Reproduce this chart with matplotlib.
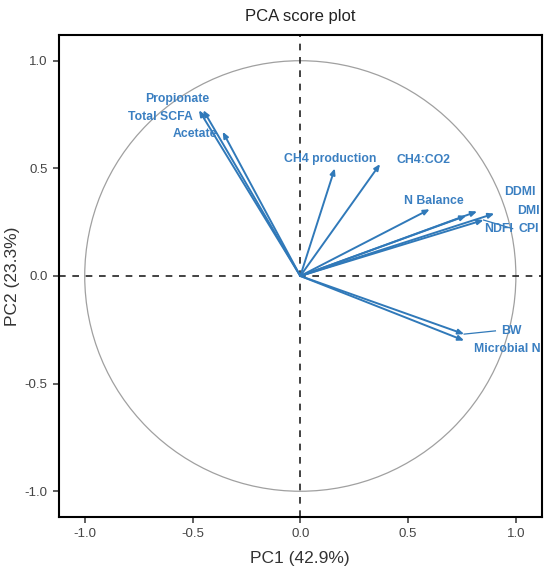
import numpy as np
import matplotlib.pyplot as plt
from matplotlib.patches import Circle

plt.rcParams["font.family"] = ["Liberation Sans", "DejaVu Sans"]
plt.rcParams["axes.unicode_minus"] = False

# loadings (PC1, PC2)
variables = ["Propionate", "Total SCFA", "Acetate", "CH4 production", "CH4:CO2",
             "N Balance", "DDMI", "DMI", "CPI", "NDFI", "BW", "Microbial N"]
pc1 = [-0.45, -0.47, -0.36, 0.16, 0.37, 0.60, 0.82, 0.90, 0.85, 0.77, 0.76, 0.76]
pc2 = [0.77, 0.77, 0.67, 0.50, 0.52, 0.31, 0.30, 0.29, 0.26, 0.28, -0.27, -0.30]
# label positions after de-overlapping
lab_x = [-0.57, -0.65, -0.49, 0.14, 0.57, 0.62, 1.02, 1.06, 1.06, 0.92, 0.98, 0.96]
lab_y = [0.82, 0.74, 0.66, 0.545, 0.54, 0.35, 0.39, 0.30, 0.22, 0.22, -0.255, -0.34]
connect = ["CPI", "BW"]

arrow_c = "#3079b9"
text_c = "#3a7fc1"

fig = plt.figure(figsize=(5.5, 5.72), dpi=100)
ax = fig.add_axes([0.107, 0.096, 0.878, 0.843])

ax.add_patch(Circle((0, 0), 1.0, fill=False, color="#a0a0a0", lw=0.9))
ax.axhline(0, color="#222222", ls=(0, (4, 4)), lw=1.2, zorder=1)
ax.axvline(0, color="#222222", ls=(0, (4, 4)), lw=1.2, zorder=1)

for name, x, y, tx, ty in zip(variables, pc1, pc2, lab_x, lab_y):
    ax.annotate("", xy=(x, y), xytext=(0, 0),
                arrowprops=dict(arrowstyle="-|>,head_length=0.35,head_width=0.15",
                                color=arrow_c, lw=1.4, shrinkA=0, shrinkB=0))
    ax.text(tx, ty, name, color=text_c, fontsize=8.8, fontweight="bold",
            ha="center", va="center")
    if name in connect:
        ax.plot([x, tx - 0.075], [y, ty], color=arrow_c, lw=0.9)

ax.set_xlim(-1.12, 1.12)
ax.set_ylim(-1.12, 1.12)
ax.set_xticks([-1.0, -0.5, 0.0, 0.5, 1.0])
ax.set_yticks([-1.0, -0.5, 0.0, 0.5, 1.0])
ax.tick_params(direction="out", length=4, width=1.2, labelsize=9.5,
               colors="#444444", pad=4)
for s in ax.spines.values():
    s.set_linewidth(1.5)
ax.set_xlabel("PC1 (42.9%)", fontsize=12.5, color="#333333", labelpad=8)
ax.set_ylabel("PC2 (23.3%)", fontsize=12.5, color="#333333", va="center")
ax.yaxis.set_label_coords(-0.095, 0.5)
ax.set_title("PCA score plot", fontsize=12, color="#222222", pad=10)

fig.savefig("out.png", dpi=100)
